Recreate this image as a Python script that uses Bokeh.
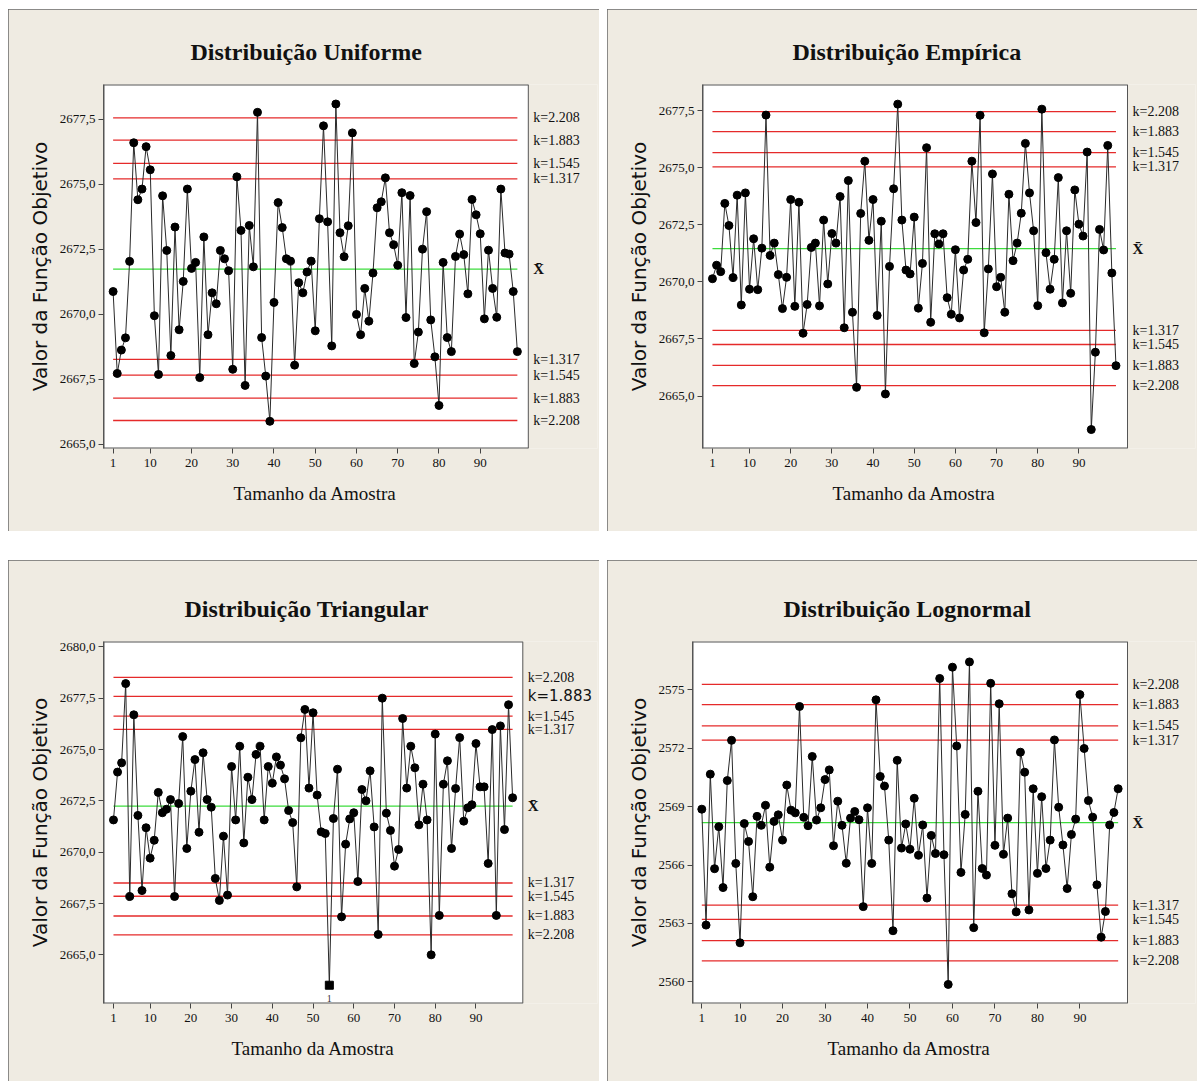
from bokeh.plotting import figure
from bokeh.layouts import column, row, Spacer
from bokeh.models import FixedTicker, Label, Range1d, Title
from bokeh.embed import file_html
from bokeh.resources import INLINE

# ---------------------------------------------------------------- data
sample = list(range(1, 100))
x_ticks = [1, 10, 20, 30, 40, 50, 60, 70, 80, 90]
k_values = [1.317, 1.545, 1.883, 2.208]

uniforme = [
    2670.87, 2667.72, 2668.62, 2669.09, 2672.03, 2676.59, 2674.40, 2674.81, 2676.44, 2675.55,
    2669.94, 2667.68, 2674.55, 2672.45, 2668.41, 2673.35, 2669.40, 2671.26, 2674.81, 2671.76,
    2671.99, 2667.56, 2672.97, 2669.21, 2670.82, 2670.40, 2672.45, 2672.13, 2671.67, 2667.88,
    2675.28, 2673.22, 2667.26, 2673.41, 2671.82, 2677.76, 2669.10, 2667.62, 2665.88, 2670.45,
    2674.29, 2673.33, 2672.13, 2672.04, 2668.04, 2671.21, 2670.82, 2671.62, 2672.04, 2669.36,
    2673.67, 2677.24, 2673.55, 2668.78, 2678.08, 2673.13, 2672.21, 2673.40, 2676.97, 2669.99,
    2669.21, 2670.99, 2669.73, 2671.58, 2674.09, 2674.32, 2675.24, 2673.13, 2672.67, 2671.88,
    2674.67, 2669.87, 2674.56, 2668.10, 2669.31, 2672.50, 2673.94, 2669.78, 2668.36, 2666.49,
    2671.99, 2669.10, 2668.56, 2672.22, 2673.08, 2672.29, 2670.78, 2674.41, 2673.82, 2673.09,
    2669.82, 2672.46, 2670.99, 2669.88, 2674.81, 2672.35, 2672.31, 2670.87, 2668.56,
]
uniforme_mean, uniforme_sigma = 2671.73, 2.635

empirica = [
    2670.14, 2670.73, 2670.45, 2673.44, 2672.47, 2670.19, 2673.80, 2668.99, 2673.90, 2669.68,
    2671.89, 2669.66, 2671.48, 2677.31, 2671.16, 2671.70, 2670.32, 2668.83, 2670.20, 2673.61,
    2668.93, 2673.49, 2667.75, 2669.01, 2671.51, 2671.70, 2668.95, 2672.71, 2669.91, 2672.12,
    2671.70, 2673.74, 2667.99, 2674.44, 2668.67, 2665.38, 2673.00, 2675.29, 2671.82, 2673.61,
    2668.53, 2672.66, 2665.09, 2670.68, 2674.08, 2677.79, 2672.71, 2670.52, 2670.35, 2672.84,
    2668.85, 2670.81, 2675.88, 2668.23, 2672.11, 2671.66, 2672.11, 2669.31, 2668.58, 2671.41,
    2668.42, 2670.52, 2670.99, 2675.29, 2672.60, 2677.30, 2667.77, 2670.57, 2674.73, 2669.79,
    2670.20, 2668.67, 2673.84, 2670.93, 2671.70, 2673.01, 2676.07, 2673.90, 2672.24, 2668.96,
    2677.57, 2671.28, 2669.68, 2670.99, 2674.57, 2669.08, 2672.24, 2669.50, 2674.03, 2672.53,
    2672.01, 2675.69, 2663.53, 2666.92, 2672.30, 2671.40, 2675.98, 2670.39, 2666.33,
]
empirica_mean, empirica_sigma = 2671.46, 2.72

triangular = [
    2671.57, 2673.90, 2674.35, 2678.21, 2667.84, 2676.69, 2671.79, 2668.13, 2671.19, 2669.71,
    2670.58, 2672.91, 2671.92, 2672.09, 2672.56, 2667.84, 2672.37, 2675.63, 2670.18, 2672.97,
    2674.51, 2670.97, 2674.84, 2672.56, 2672.19, 2668.72, 2667.65, 2670.78, 2667.91, 2674.17,
    2671.57, 2675.16, 2670.45, 2673.65, 2672.56, 2674.76, 2675.16, 2671.57, 2674.17, 2673.36,
    2674.64, 2674.24, 2673.57, 2672.03, 2671.44, 2668.31, 2675.57, 2676.95, 2673.12, 2676.79,
    2672.78, 2670.99, 2670.91, 2663.52, 2671.64, 2674.04, 2666.85, 2670.39, 2671.62, 2671.92,
    2668.57, 2673.05, 2672.50, 2673.96, 2671.23, 2665.99, 2677.50, 2671.90, 2671.06, 2669.32,
    2670.13, 2676.51, 2673.12, 2675.16, 2674.11, 2671.33, 2673.31, 2671.57, 2665.00, 2675.75,
    2666.92, 2673.31, 2674.45, 2670.18, 2673.10, 2675.58, 2671.51, 2672.16, 2672.31, 2675.29,
    2673.18, 2673.18, 2669.45, 2675.97, 2666.92, 2676.15, 2671.10, 2677.18, 2672.65,
]
triangular_mean, triangular_sigma = 2672.24, 2.84
triangular_flagged = [54]

lognormal = [
    2568.87, 2562.91, 2570.67, 2565.81, 2567.97, 2564.84, 2570.34, 2572.41, 2566.08, 2562.00,
    2568.13, 2567.21, 2564.37, 2568.50, 2568.04, 2569.07, 2565.89, 2568.24, 2568.58, 2567.28,
    2570.11, 2568.82, 2568.68, 2574.15, 2568.45, 2568.02, 2571.58, 2568.31, 2568.94, 2570.39,
    2570.89, 2566.99, 2569.28, 2568.04, 2566.09, 2568.41, 2568.75, 2568.33, 2563.86, 2568.94,
    2566.08, 2574.49, 2570.55, 2570.06, 2567.28, 2562.62, 2571.38, 2566.87, 2568.11, 2566.81,
    2569.43, 2566.50, 2568.06, 2564.30, 2567.52, 2566.59, 2575.59, 2566.53, 2559.86, 2576.17,
    2572.12, 2565.62, 2568.60, 2576.44, 2562.78, 2569.79, 2565.82, 2565.48, 2575.34, 2567.01,
    2574.29, 2566.55, 2568.41, 2564.52, 2563.59, 2571.80, 2570.77, 2563.69, 2569.92, 2565.57,
    2569.51, 2565.82, 2567.28, 2572.43, 2568.97, 2567.03, 2564.79, 2567.57, 2568.36, 2574.76,
    2571.99, 2569.31, 2568.46, 2564.98, 2562.29, 2563.61, 2568.06, 2568.70, 2569.92,
]
lognormal_mean, lognormal_sigma = 2568.18, 3.22

yticks_2665 = [2665.0, 2667.5, 2670.0, 2672.5, 2675.0, 2677.5]
ylabels_2665 = ["2665,0", "2667,5", "2670,0", "2672,5", "2675,0", "2677,5"]
yticks_2680 = [2665.0, 2667.5, 2670.0, 2672.5, 2675.0, 2677.5, 2680.0]
ylabels_2680 = ["2665,0", "2667,5", "2670,0", "2672,5", "2675,0", "2677,5", "2680,0"]
yticks_2560 = [2560, 2563, 2566, 2569, 2572, 2575]
ylabels_2560 = ["2560", "2563", "2566", "2569", "2572", "2575"]

# ---------------------------------------------------------------- style
PANEL_BG = "#efebe2"
LIMIT_RED = "#e52a2a"
CENTER_GREEN = "#3ddc3d"
FRAME_GREY = "#555555"
SERIF = "Liberation Serif"


def control_panel(title, values, mean, sigma, box_x, box_y, box_w_px,
                  yticks, ylabels, w, h, borders, title_offset, xlabel_offset,
                  flagged=(), bold_label=None):
    """One Minitab-style control chart panel.

    The white plotting box covers box_x x box_y; the drawable frame keeps
    going to the right so that the limit labels sit beside the box.
    """
    left, right, top, bottom = borders
    px_per_sample = box_w_px / (box_x[1] - box_x[0])
    frame_w = w - left - right
    x_end = box_x[0] + frame_w / px_per_sample

    p = figure(width=w, height=h, output_backend="svg", toolbar_location=None,
               x_range=Range1d(box_x[0], x_end), y_range=Range1d(*box_y),
               min_border_left=left, min_border_right=right,
               min_border_top=top, min_border_bottom=bottom)
    p.styles = {"outline": "1px solid #6a6a6a", "outline-offset": "-1px"}
    p.border_fill_color = PANEL_BG
    p.background_fill_color = PANEL_BG
    p.outline_line_color = None
    p.grid.visible = False

    p.title.text = title
    p.title.align = "left"
    p.title.offset = title_offset
    p.title.text_font = SERIF
    p.title.text_font_style = "bold"
    p.title.text_font_size = "24px"
    p.title.text_color = "#111111"
    p.title.standoff = 39

    for ax in (p.xaxis[0], p.yaxis[0]):
        ax.major_tick_line_color = "#444444"
        ax.major_tick_out = 5
        ax.major_tick_in = 0
        ax.minor_tick_line_color = None
        ax.major_label_text_font = SERIF
        ax.major_label_text_font_size = "13px"
        ax.major_label_text_color = "#111111"
        ax.axis_label_text_font_style = "normal"
        ax.axis_label_text_color = "#111111"
    p.xaxis.axis_line_color = None
    p.yaxis.axis_line_color = FRAME_GREY

    p.xaxis.ticker = FixedTicker(ticks=x_ticks)
    p.xaxis.major_label_standoff = 5
    # x axis title sits under the white box, not under the whole frame
    p.add_layout(Title(text="Tamanho da Amostra", align="left", offset=xlabel_offset,
                       text_font=SERIF, text_font_size="19px",
                       text_font_style="normal", text_color="#111111",
                       standoff=23), "below")

    p.yaxis.ticker = FixedTicker(ticks=yticks)
    p.yaxis.major_label_overrides = {t: s for t, s in zip(yticks, ylabels)}
    p.yaxis.major_label_standoff = 3
    p.yaxis.axis_label = "Valor da Função Objetivo"
    p.yaxis.axis_label_text_font = "DejaVu Sans"
    p.yaxis.axis_label_text_font_size = "20px"
    p.yaxis.axis_label_standoff = 5

    # white plotting box with its frame
    p.quad(left=[box_x[0]], right=[box_x[1]], bottom=[box_y[0]], top=[box_y[1]],
           fill_color="white", line_color=None)
    p.multi_line(xs=[[box_x[0], box_x[1]], [box_x[0], box_x[1]], [box_x[0], box_x[0]]],
                 ys=[[box_y[0], box_y[0]], [box_y[1], box_y[1]], [box_y[0], box_y[1]]],
                 line_color=FRAME_GREY, line_width=2)
    p.segment(x0=[box_x[1]], x1=[box_x[1]], y0=[box_y[0]], y1=[box_y[1]],
              line_color=FRAME_GREY, line_width=1)

    n = len(values)
    upper = [mean + k * sigma for k in k_values]
    lower = [mean - k * sigma for k in k_values]

    # control limits and centre line
    p.segment(x0=[1] * 8, x1=[n] * 8, y0=upper + lower, y1=upper + lower,
              line_color=LIMIT_RED, line_width=1.3)
    p.segment(x0=[1], x1=[n], y0=[mean], y1=[mean],
              line_color=CENTER_GREEN, line_width=1.3)

    # series
    xs = sample[:n]
    p.line(xs, values, line_color="#2a2a2a", line_width=1)
    normal = [i for i in range(n) if xs[i] not in flagged]
    p.scatter([xs[i] for i in normal], [values[i] for i in normal],
              size=8, color="black")
    if flagged:
        fx = [x for x in xs if x in flagged]
        fy = [values[x - 1] for x in fx]
        p.scatter(fx, fy, marker="square", size=8, color="black")
        for x, y in zip(fx, fy):
            p.add_layout(Label(x=x, y=y, y_offset=-13, text="1",
                               text_font=SERIF, text_font_size="10px",
                               text_color="#333333", text_align="center",
                               text_baseline="middle"))

    # limit labels beside the box
    x_lab = box_x[1]
    for k, yu, yl in zip(k_values, upper, lower):
        for yy, side in ((yu, "up"), (yl, "low")):
            special = bold_label is not None and bold_label == (k, side)
            p.add_layout(Label(x=x_lab, y=yy, x_offset=5, text=f"k={k:.3f}",
                               text_font="DejaVu Sans" if special else SERIF,
                               text_font_size="15px" if special else "14px",
                               text_color="#111111", text_baseline="middle"))
    p.add_layout(Label(x=x_lab, y=mean, x_offset=5, text="X\u0304",
                       text_font=SERIF, text_font_style="bold",
                       text_font_size="15px", text_color="#111111",
                       text_baseline="middle"))
    return p


p1 = control_panel("Distribuição Uniforme", uniforme, uniforme_mean, uniforme_sigma,
                   (-1.33, 101.65), (2664.835, 2678.83), 424.8,
                   yticks_2665, ylabels_2665, 591, 522, (95, 2, 75, 83), 87, 130)
p2 = control_panel("Distribuição Empírica", empirica, empirica_mean, empirica_sigma,
                   (-1.42, 101.8), (2662.70, 2678.65), 425.0,
                   yticks_2665, ylabels_2665, 590, 522, (95, 2, 75, 82), 90, 130)
p3 = control_panel("Distribuição Triangular", triangular, triangular_mean, triangular_sigma,
                   (-1.45, 101.5), (2662.63, 2680.26), 419.3,
                   yticks_2680, ylabels_2680, 591, 521, (95, 2, 81, 78), 81, 128,
                   flagged=triangular_flagged, bold_label=(1.883, "up"))
p4 = control_panel("Distribuição Lognormal", lognormal, lognormal_mean, lognormal_sigma,
                   (-1.19, 101.2), (2558.88, 2577.49), 435.0,
                   yticks_2560, ylabels_2560, 590, 521, (85, 2, 77, 78), 91, 135)

layout = column(
    Spacer(height=9),
    row(Spacer(width=8), p1, Spacer(width=8), p2),
    Spacer(height=29),
    row(Spacer(width=8), p3, Spacer(width=8), p4),
)

open("out.html", "w").write(file_html(layout, INLINE))
